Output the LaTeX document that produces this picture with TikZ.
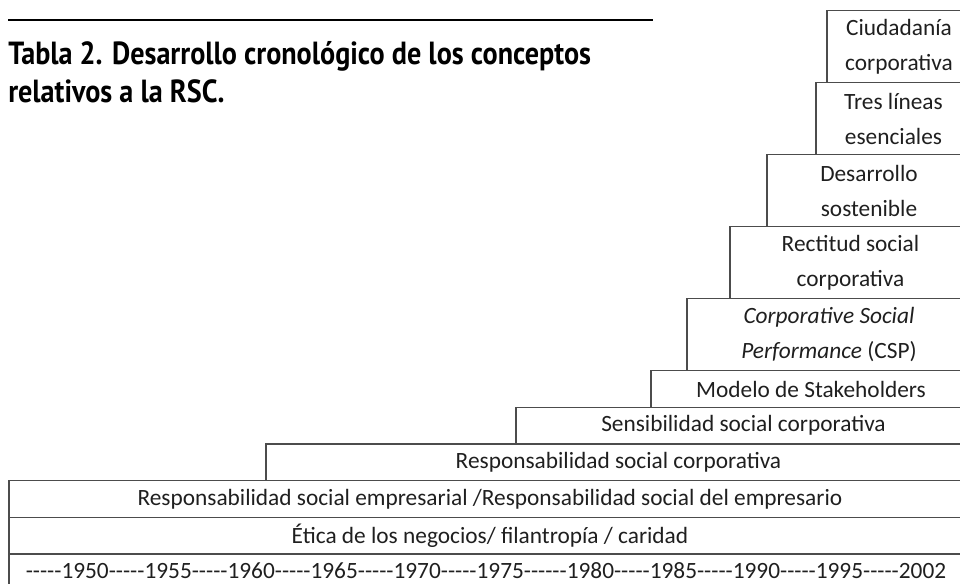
\documentclass[tikz,border=0pt]{standalone}
\usepackage{fontspec}
\setmainfont{Carlito}[Ligatures=TeXOff]
\newfontfamily\titlefont{PT Sans}[FakeStretch=0.88]
\usetikzlibrary{positioning}
\definecolor{boxline}{gray}{0.3}
\definecolor{boxtext}{gray}{0.12}
\tikzset{
  stage/.style  = {draw=boxline, line width=1.2pt, rectangle, inner sep=0pt,
                   outer sep=0pt, anchor=south east, align=center, text=boxtext,
                   font=\fontsize{17.5}{26.5}\selectfont},
  onerow/.style = {minimum height=27.5pt},
  tworow/.style = {minimum height=54pt},
}

\begin{document}
\begin{tikzpicture}[x=0.75pt,y=-0.75pt]
\useasboundingbox (0,0) rectangle (960,584);
\clip (0,0) rectangle (960,584);
% title
\coordinate (ruleL) at (8,20);
\coordinate (ruleR) at (653,20);
\draw[line width=1.1pt] (ruleL) -- (ruleR);
\node[anchor=north west, align=left, inner sep=0pt,
      font=\titlefont\bfseries\fontsize{24}{28.5}\selectfont] (title) at (8,41)
  {Tabla 2. Desarrollo cronológico de los conceptos\\relativos a la RSC.};
% stairs, from the bottom up
\node[stage, minimum width=721.5pt, minimum height=25.5pt] (years) at (971,588)
  {-----1950-----1955-----1960-----1965-----1970-----1975------1980-----1985-----1990-----1995-----2002\hspace{6pt}};
\node[stage, onerow, minimum width=721.5pt] (etica) at (years.north east)
  {Ética de los negocios/ filantropía / caridad};
\node[stage, onerow, minimum width=721.5pt] (rse) at (etica.north east)
  {Responsabilidad social empresarial /Responsabilidad social del empresario};
\node[stage, onerow, minimum width=528.75pt] (rsc) at (rse.north east)
  {Responsabilidad social corporativa};
\node[stage, onerow, minimum width=341.25pt] (sens) at (rsc.north east)
  {Sensibilidad social corporativa};
\node[stage, onerow, minimum width=240pt] (stake) at (sens.north east)
  {Modelo de Stakeholders};
\node[stage, tworow, minimum width=213pt] (csp) at (stake.north east)
  {\textit{Corporative Social}\\\textit{Performance} (CSP)};
\node[stage, tworow, minimum width=180.75pt] (recti) at (csp.north east)
  {Rectitud social\\corporativa};
\node[stage, tworow, minimum width=153pt] (sost) at (recti.north east)
  {Desarrollo\\sostenible};
\node[stage, tworow, minimum width=116.25pt] (tres) at (sost.north east)
  {Tres líneas\\esenciales};
\node[stage, tworow, minimum width=108pt] (ciud) at (tres.north east)
  {Ciudadanía\\corporativa};
\end{tikzpicture}
\end{document}
